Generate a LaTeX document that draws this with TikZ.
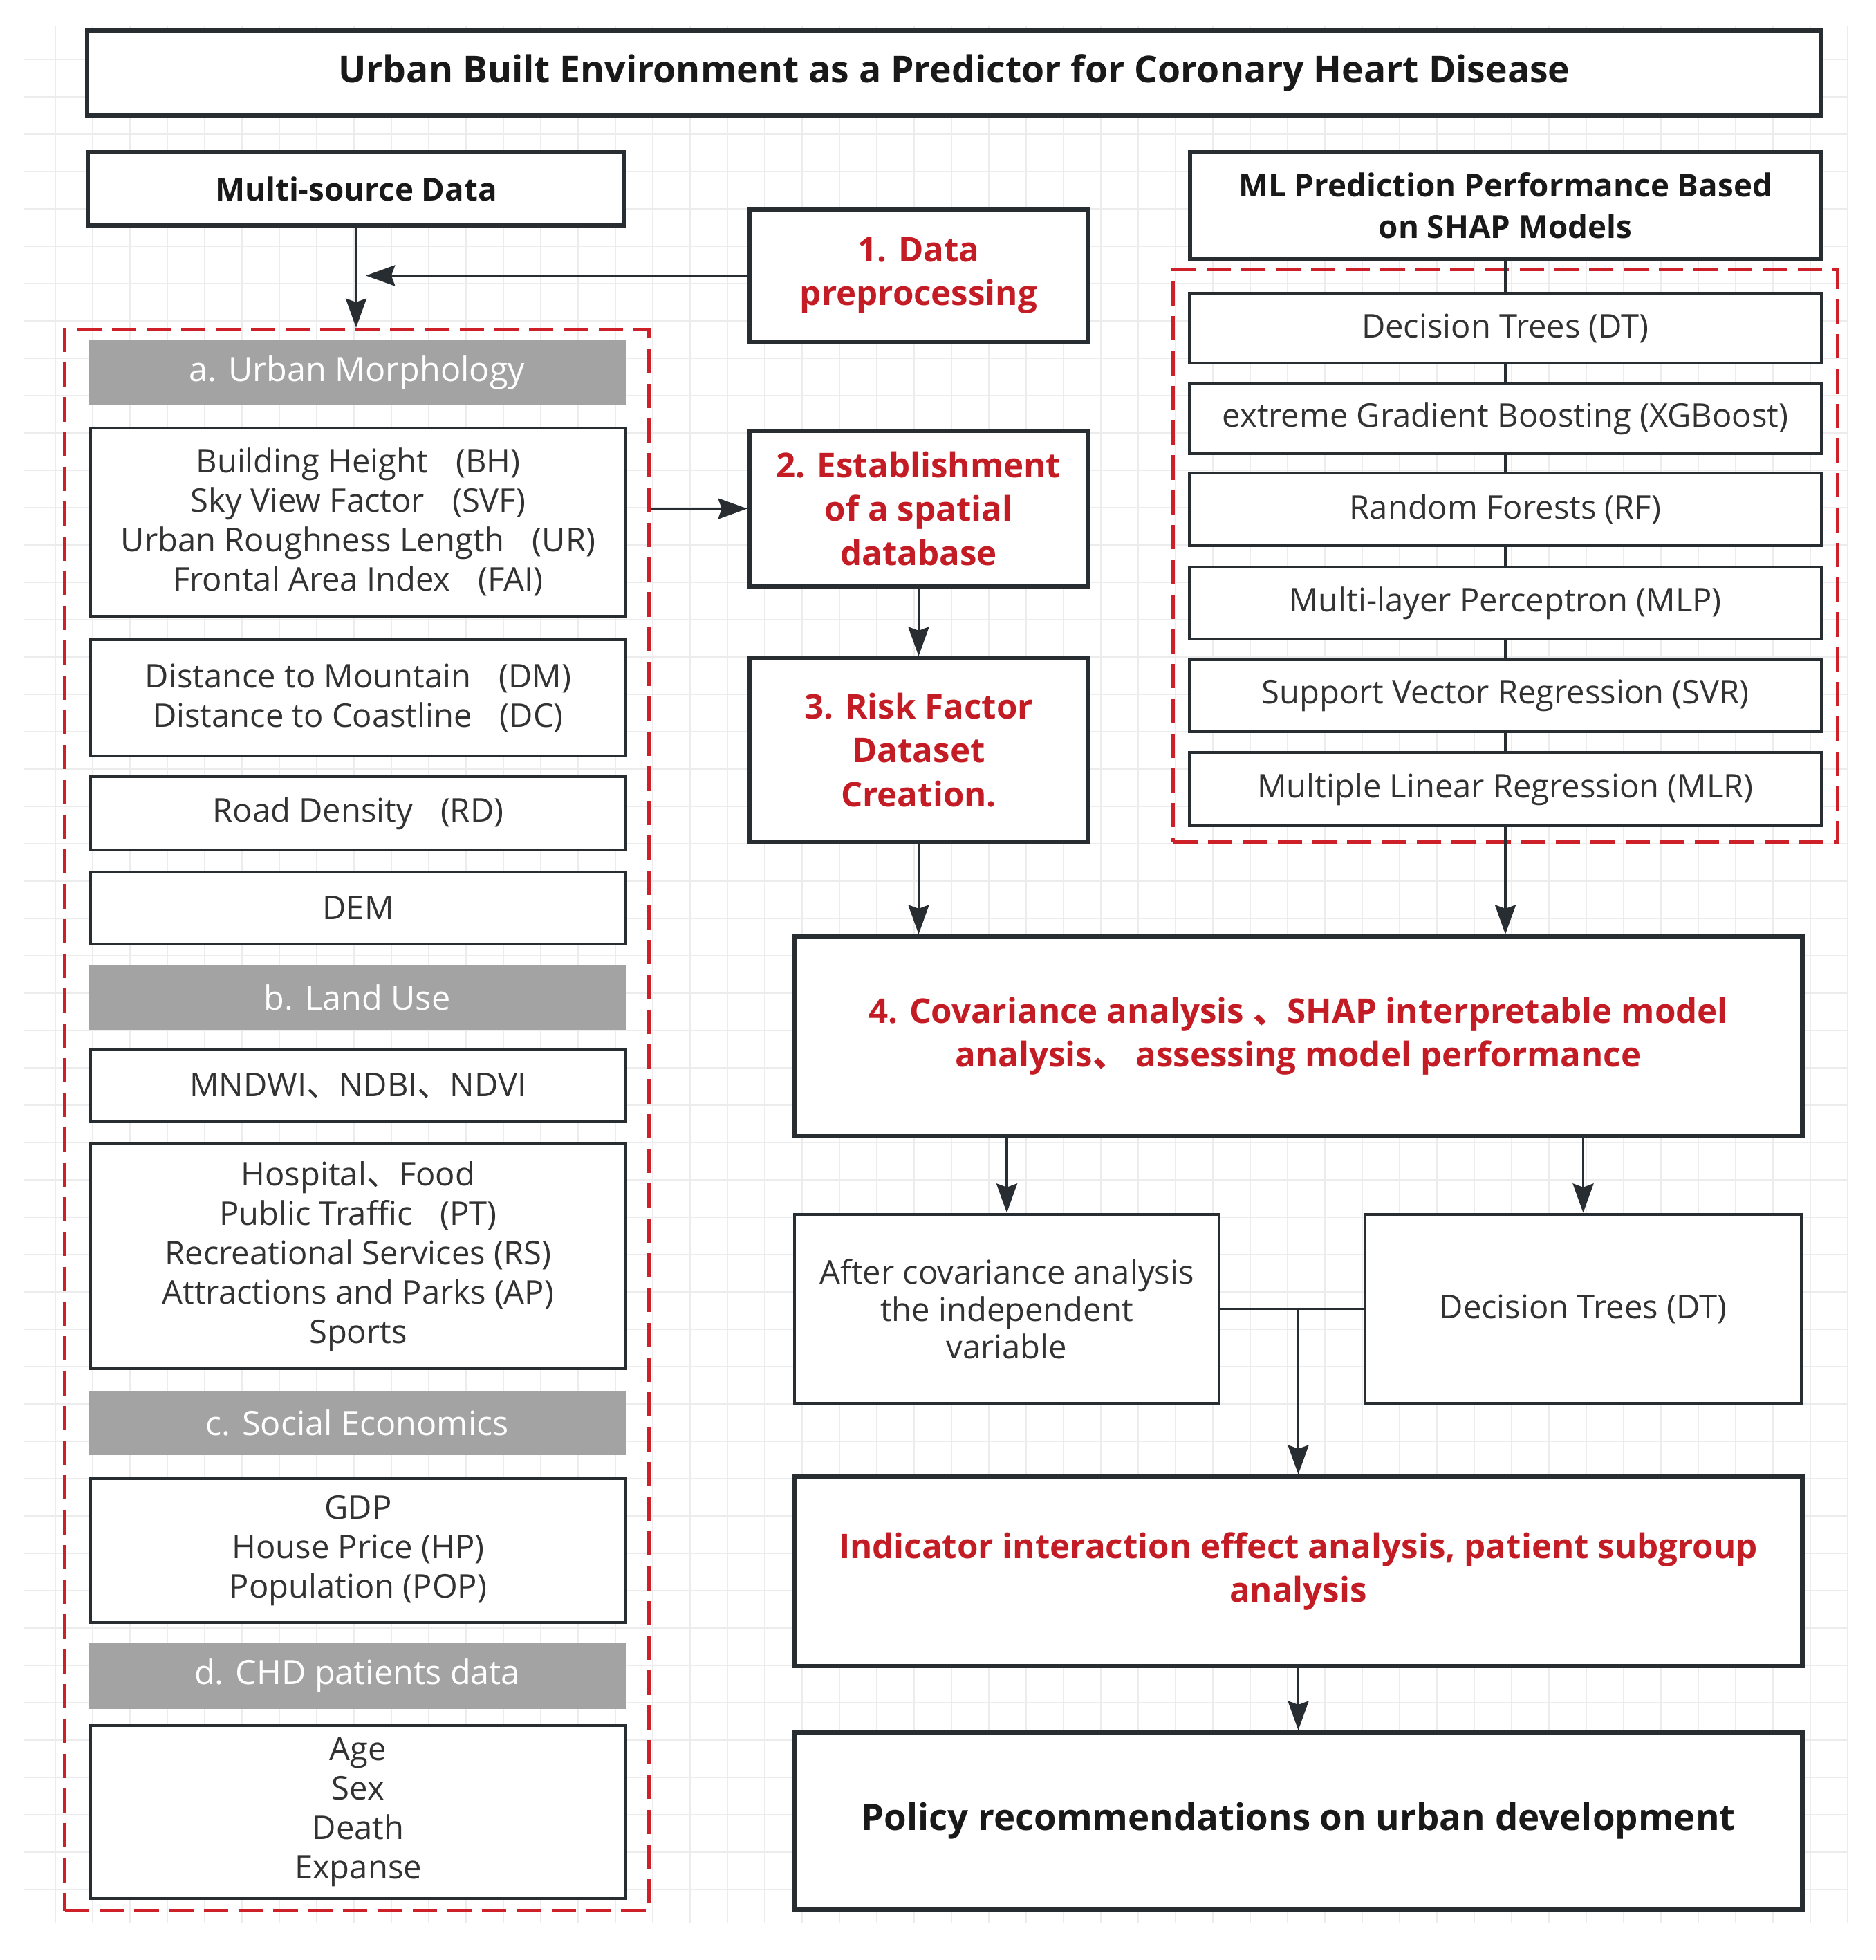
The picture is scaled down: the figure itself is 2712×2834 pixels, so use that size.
\documentclass[tikz,border=0pt]{standalone}
\usepackage{fontspec}
\setmainfont{Open Sans}
\newfontfamily\cjk{Noto Sans CJK SC}
\usetikzlibrary{arrows.meta,calc}
\definecolor{edge}{RGB}{40,45,50}
\definecolor{txt}{RGB}{50,50,50}
\definecolor{blk}{RGB}{25,25,25}
\definecolor{redtext}{RGB}{196,28,36}
\definecolor{dashred}{RGB}{205,32,40}
\definecolor{hdrgray}{RGB}{163,163,163}
\definecolor{gridc}{RGB}{236,236,236}
\tikzset{
  mainbox/.style={draw=edge, line width=1.8pt, fill=white, inner sep=0pt, align=center},
  itembox/.style={draw=edge, line width=1.1pt, fill=white, inner sep=0pt, align=center,
    text=txt, font=\fontsize{13.4}{16.2}\selectfont},
  hdr/.style={fill=hdrgray, draw=none, text=white, inner sep=0pt,
    font=\fontsize{13.8}{16}\selectfont},
  groupbox/.style={draw=dashred, line width=1.4pt, dash pattern=on 10pt off 4.3pt, inner sep=0pt},
  redbold/.style={text=redtext, font=\bfseries\fontsize{14}{18}\selectfont},
  blkbold/.style={text=blk, font=\bfseries\fontsize{13}{17}\selectfont},
  arr/.style={draw=edge, line width=1.1pt, -{Stealth[length=12pt,width=8.5pt,inset=1.5pt]}},
  link/.style={draw=edge, line width=1.1pt},
  gridln/.style={draw=gridc, line width=0.6pt},
}
\begin{document}
\begin{tikzpicture}[x=0.01cm, y=-0.01cm]
\useasboundingbox[fill=white] (0,0) rectangle (2712,2834);
% background grid
\foreach \i in {0,...,48} { \draw[gridln] ({80+54*\i},37) -- ({80+54*\i},2780); }
\foreach \j in {0,...,49} { \draw[gridln] (35,{86+54*\j}) -- (2673,{86+54*\j}); }

% title
\node[mainbox, minimum width=25.06cm, minimum height=1.23cm, text=blk,
  font=\bfseries\fontsize{15.2}{18}\selectfont] (title) at (1380,105.5)
  {Urban Built Environment as a Predictor for Coronary Heart Disease};

% left column
\node[mainbox, blkbold, minimum width=7.76cm, minimum height=1.06cm] (multi) at (515,273) {Multi-source Data};
\node[groupbox, minimum width=8.44cm, minimum height=22.85cm] (lg) at (516,1619.5) {};

\node[hdr, minimum width=7.77cm, minimum height=0.95cm] (ha) at (516.5,538.5) {a. Urban Morphology};
\node[itembox, minimum width=7.74cm, minimum height=2.72cm] (i1) at (518,755)
  {Building Height\hspace{0.85em}(BH)\\Sky View Factor\hspace{0.85em}(SVF)\\Urban Roughness Length\hspace{0.85em}(UR)\\Frontal Area Index\hspace{0.85em}(FAI)};
\node[itembox, minimum width=7.74cm, minimum height=1.68cm] (i2) at (518,1009)
  {Distance to Mountain\hspace{0.85em}(DM)\\Distance to Coastline\hspace{0.85em}(DC)};
\node[itembox, minimum width=7.74cm, minimum height=1.06cm] (i3) at (518,1176) {Road Density\hspace{0.85em}(RD)};
\node[itembox, minimum width=7.74cm, minimum height=1.04cm] (i4) at (518,1313) {DEM};

\node[hdr, minimum width=7.77cm, minimum height=0.93cm] (hb) at (516.5,1442.5) {b. Land Use};
\node[itembox, minimum width=7.74cm, minimum height=1.05cm] (i5) at (518,1569.5) {MNDWI{\cjk 、}NDBI{\cjk 、}NDVI};
\node[itembox, minimum width=7.74cm, minimum height=3.26cm] (i6) at (518,1816)
  {Hospital{\cjk 、}Food\\Public Traffic\hspace{0.85em}(PT)\\Recreational Services (RS)\\Attractions and Parks (AP)\\Sports};

\node[hdr, minimum width=7.77cm, minimum height=0.93cm] (hc) at (516.5,2057.5) {c. Social Economics};
\node[itembox, minimum width=7.74cm, minimum height=2.08cm] (i7) at (518,2242)
  {GDP\\House Price (HP)\\Population (POP)};

\node[hdr, minimum width=7.77cm, minimum height=0.96cm] (hd) at (516.5,2423) {d. CHD patients data};
\node[itembox, minimum width=7.74cm, minimum height=2.50cm] (i8) at (518,2620)
  {Age\\Sex\\Death\\Expanse};

% middle column
\node[mainbox, redbold, minimum width=4.89cm, minimum height=1.91cm] (p1) at (1328.5,398.5) {1. Data\\preprocessing};
\node[mainbox, redbold, minimum width=4.89cm, minimum height=2.25cm] (p2) at (1328.5,735.5) {2. Establishment\\of a spatial\\database};
\node[mainbox, redbold, minimum width=4.89cm, minimum height=2.65cm] (p3) at (1328.5,1084.5) {3. Risk Factor\\Dataset\\Creation.};

% right column
\node[mainbox, blkbold, minimum width=9.12cm, minimum height=1.55cm] (ml) at (2177,297.5)
  {ML Prediction Performance Based\\on SHAP Models};
\node[groupbox, minimum width=9.60cm, minimum height=8.27cm] (rg) at (2177,803.5) {};
\node[itembox, minimum width=9.14cm, minimum height=1.01cm] (dt) at (2177,474.5) {Decision Trees (DT)};
\node[itembox, minimum width=9.14cm, minimum height=1.01cm] (xgb) at (2177,605.5) {extreme Gradient Boosting (XGBoost)};
\node[itembox, minimum width=9.14cm, minimum height=1.05cm] (rf) at (2177,736.5) {Random Forests (RF)};
\node[itembox, minimum width=9.14cm, minimum height=1.04cm] (mlp) at (2177,872) {Multi-layer Perceptron (MLP)};
\node[itembox, minimum width=9.14cm, minimum height=1.04cm] (svr) at (2177,1006) {Support Vector Regression (SVR)};
\node[itembox, minimum width=9.14cm, minimum height=1.06cm] (mlr) at (2177,1141) {Multiple Linear Regression (MLR)};

% lower part
\node[mainbox, redbold, minimum width=14.57cm, minimum height=2.89cm] (p4) at (1877.5,1498.5)
  {4. Covariance analysis {\cjk 、}SHAP interpretable model\\analysis{\cjk 、} assessing model performance};
\node[itembox, line width=1.3pt, minimum width=6.14cm, minimum height=2.73cm, font=\fontsize{13.4}{15.4}\selectfont] (sa) at (1456,1892.5)
  {After covariance analysis\\the independent\\variable};
\node[itembox, line width=1.3pt, minimum width=6.31cm, minimum height=2.73cm] (sb) at (2289.5,1892.5) {Decision Trees (DT)};
\node[mainbox, redbold, minimum width=14.57cm, minimum height=2.74cm] (p5) at (1877.5,2272)
  {Indicator interaction effect analysis, patient subgroup\\analysis};
\node[mainbox, minimum width=14.57cm, minimum height=2.56cm, text=blk,
  font=\bfseries\fontsize{15}{18}\selectfont] (p6) at (1877.5,2633)
  {Policy recommendations on urban development};

% connectors
\draw[arr] (multi.south) -- (multi.south |- lg.north);
\draw[arr, shorten >=0.14cm] (p1.west) -- (p1.west -| multi.south);
\draw[arr] (lg.east |- p2.west) -- (p2.west);
\draw[arr] (p2.south) -- (p3.north);
\draw[arr] (p3.south) -- (p3.south |- p4.north);
\draw[link] (ml.south) -- (dt.north);
\draw[link] (dt.south) -- (xgb.north);
\draw[link] (xgb.south) -- (rf.north);
\draw[link] (rf.south) -- (mlp.north);
\draw[link] (mlp.south) -- (svr.north);
\draw[link] (svr.south) -- (mlr.north);
\draw[arr] (mlr.south) -- (mlr.south |- p4.north);
\draw[arr] (sa.north |- p4.south) -- (sa.north);
\draw[arr] (sb.north |- p4.south) -- (sb.north);
\draw[link] (sa.east) -- (sb.west);
\coordinate (jn) at (p5.north |- sa.east);
\draw[arr] (jn) -- (p5.north);
\draw[arr] (p5.south) -- (p6.north);
\end{tikzpicture}
\end{document}
